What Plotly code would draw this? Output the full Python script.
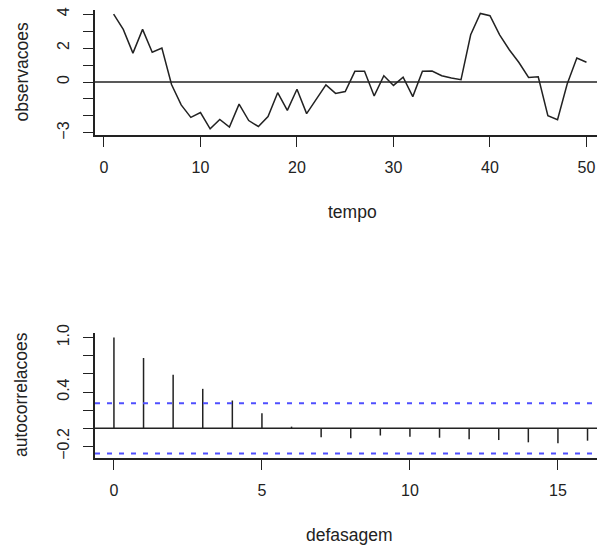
import plotly.graph_objects as go
import numpy as np

# Observed series (t = 1..50)
tempo = list(range(1, 51))
observacoes = [4.0, 3.1, 1.7, 3.1, 1.75, 2.0, -0.15, -1.35, -2.08, -1.8,
               -2.76, -2.2, -2.65, -1.3, -2.27, -2.62, -2.03, -0.63, -1.67, -0.43,
               -1.86, -1.05, -0.17, -0.67, -0.56, 0.63, 0.63, -0.82, 0.37, -0.2,
               0.29, -0.86, 0.64, 0.65, 0.37, 0.24, 0.14, 2.78, 4.04, 3.9,
               2.78, 1.9, 1.15, 0.27, 0.31, -1.98, -2.22, -0.12, 1.41, 1.16]

# Sample autocorrelations, lags 0..16
defasagem = list(range(0, 17))
autocorrelacoes = [1.0, 0.775, 0.59, 0.435, 0.306, 0.166, 0.018, -0.10, -0.11,
                   -0.08, -0.093, -0.104, -0.122, -0.13, -0.155, -0.166, -0.137]

# Approximate 95% white-noise band
conf_limit = 1.96 / np.sqrt(len(observacoes))

top_xticks = [0, 10, 20, 30, 40, 50]
top_yticks = [-3, -2, -1, 0, 1, 2, 3, 4]
top_ytext = ["\u22123", "", "", "0", "", "2", "", "4"]
bot_xticks = [0, 5, 10, 15]
bot_yticks = [-0.2, 0.0, 0.2, 0.4, 0.6, 0.8, 1.0]
bot_ytext = ["\u22120.2", "", "", "0.4", "", "", "1.0"]

W, H = 597, 547
INK = "#222222"
BAND = "#4f4fff"
FONT = "Liberation Sans, Arial, sans-serif"
TICK_FS = 16
TITLE_FS = 17.5

fig = go.Figure()

fig.add_trace(go.Scatter(x=tempo, y=observacoes, mode="lines",
                         line=dict(color=INK, width=1.5),
                         xaxis="x", yaxis="y", showlegend=False))

# ACF spikes as vertical segments from zero
sx, sy = [], []
for lag, r in zip(defasagem, autocorrelacoes):
    sx += [lag, lag, None]
    sy += [0, r, None]
fig.add_trace(go.Scatter(x=sx, y=sy, mode="lines",
                         line=dict(color=INK, width=1.5),
                         xaxis="x2", yaxis="y2", showlegend=False))

def ypx(p):
    return 1 - p / H

axis_common = dict(showline=True, linecolor=INK, linewidth=1.5,
                   ticks="outside", ticklen=10, tickwidth=1.3, tickcolor=INK,
                   showgrid=False, zeroline=False, automargin=False,
                   tickfont=dict(family=FONT, size=TICK_FS, color=INK))

def title(text, x, y, angle=0):
    return dict(text=text, xref="paper", yref="paper", x=x / W, y=ypx(y),
                xanchor="center", yanchor="middle", textangle=angle,
                showarrow=False, font=dict(family=FONT, size=TITLE_FS, color=INK))

fig.update_layout(
    width=W, height=H,
    margin=dict(l=0, r=0, t=0, b=0),
    paper_bgcolor="white", plot_bgcolor="white",
    xaxis=dict(domain=[95 / W, 1], anchor="y", range=[-0.93, 51.09],
               tickvals=top_xticks, ticklabelstandoff=7, **axis_common),
    yaxis=dict(domain=[ypx(135), ypx(10)], anchor="x", range=[-3.12, 4.24],
               tickvals=top_yticks, ticktext=top_ytext, tickangle=-90,
               ticklabelstandoff=8, **axis_common),
    xaxis2=dict(domain=[95 / W, 1], anchor="y2", range=[-0.64, 16.32],
                tickvals=bot_xticks, ticklabelstandoff=7, **axis_common),
    yaxis2=dict(domain=[ypx(458), ypx(333)], anchor="x2", range=[-0.328, 1.051],
                tickvals=bot_yticks, ticktext=bot_ytext, tickangle=-90,
                ticklabelstandoff=8, **axis_common),
    shapes=[
        dict(type="line", xref="x domain", yref="y", x0=0, x1=1, y0=0, y1=0,
             line=dict(color=INK, width=1.5)),
        dict(type="line", xref="x2 domain", yref="y2", x0=0, x1=1, y0=0, y1=0,
             line=dict(color=INK, width=1.5)),
        dict(type="line", xref="x2 domain", yref="y2", x0=0, x1=1,
             y0=conf_limit, y1=conf_limit,
             line=dict(color=BAND, width=2, dash="5px,7px")),
        dict(type="line", xref="x2 domain", yref="y2", x0=0, x1=1,
             y0=-conf_limit, y1=-conf_limit,
             line=dict(color=BAND, width=2, dash="5px,7px")),
    ],
    annotations=[
        title("tempo", 352, 212),
        title("defasagem", 350, 535),
        title("observacoes", 21, 72.5, -90),
        title("autocorrelacoes", 21, 395, -90),
    ],
)

fig.write_html("out.html")
